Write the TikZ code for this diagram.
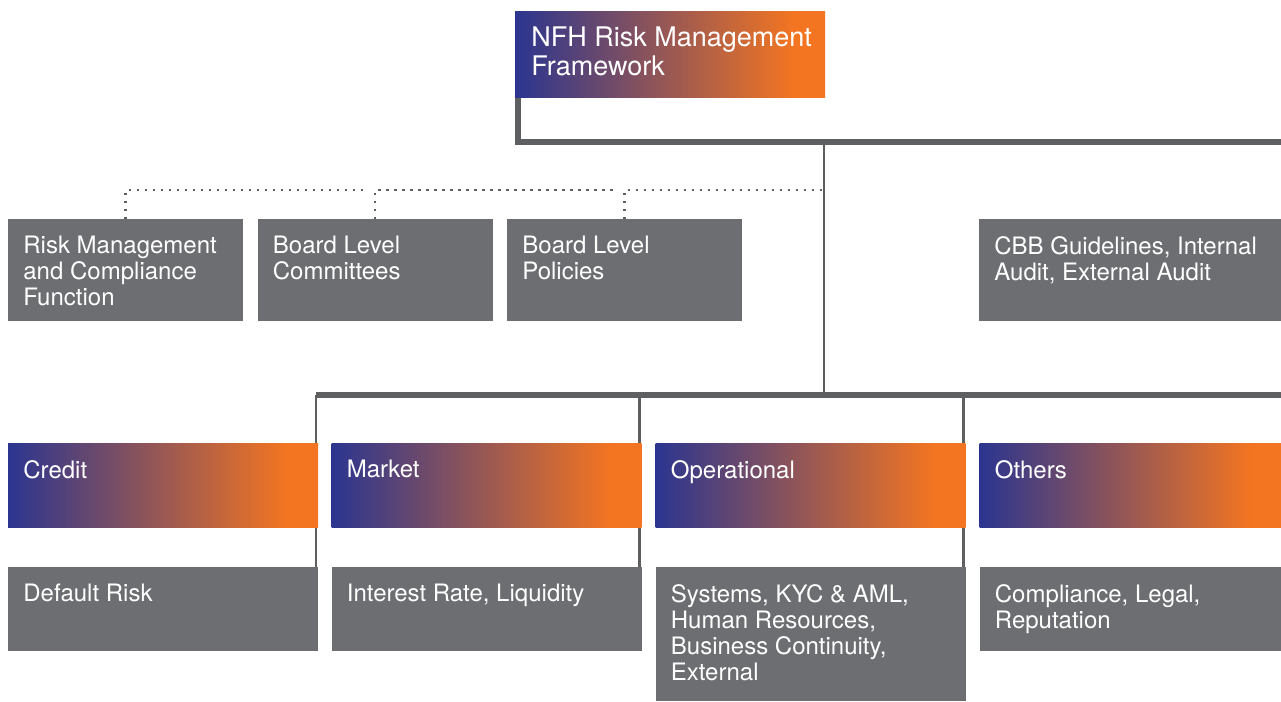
\documentclass[tikz,border=0pt]{standalone}
\usepackage{fontspec}
\setmainfont{TeX Gyre Heros}
\usetikzlibrary{positioning, backgrounds}

\definecolor{nfhblue}{HTML}{2B3590}
\definecolor{nfhorange}{HTML}{F37521}
\definecolor{boxgray}{HTML}{6D6E71}
\definecolor{linegray}{HTML}{5E5F61}

% blue to orange, flat orange over the last part of the box
\pgfdeclarehorizontalshading{riskgrad}{100bp}{color(0bp)=(nfhblue); color(25bp)=(nfhblue); color(70bp)=(nfhorange); color(100bp)=(nfhorange)}

\begin{document}
\begin{tikzpicture}[
    node distance=7pt,
    txt/.style={anchor=north west, inner xsep=7.5pt, inner ysep=8.5pt, text=white, align=left, font=\fontsize{12}{13}\selectfont},
    tag/.style={label={[txt]north west:#1}},
    bigtag/.style={label={[txt, inner xsep=8pt, inner ysep=7.5pt, font=\fontsize{13.5}{14.5}\selectfont]north west:#1}},
    plain/.style={rectangle, inner sep=0pt, outer sep=0pt, minimum width=155pt, minimum height=42pt},
    gbox/.style={plain, fill=boxgray},
    head/.style={plain, shading=riskgrad},
    bus/.style={draw=linegray, line width=2.75pt},
    link/.style={draw=linegray, line width=1.1pt},
    dots/.style={draw=linegray, line width=1.25pt, dash pattern=on 1.25pt off 2.75pt}
]
    \useasboundingbox (0,0) rectangle (640.5pt,-351pt);

    % framework
    \node[head, minimum height=43pt, anchor=north west, bigtag={NFH Risk Management\\Framework}] (nfh) at (257.5pt,-5.5pt) {};

    % governance row
    \node[gbox, minimum width=117.5pt, minimum height=51pt, anchor=north west, tag={Risk Management\\and Compliance\\Function}] (rmc) at (4pt,-109.5pt) {};
    \node[gbox, minimum width=117.5pt, minimum height=51pt, right=7.25pt of rmc, tag={Board Level\\Committees}] (bcom) {};
    \node[gbox, minimum width=117.5pt, minimum height=51pt, right=7.25pt of bcom, tag={Board Level\\Policies}] (bpol) {};
    \node[gbox, minimum width=151pt, minimum height=51pt, anchor=north west, tag={CBB Guidelines, Internal\\Audit, External Audit}] (cbb) at (489.5pt,-109.5pt) {};

    % risk categories
    \node[head, anchor=north west, tag={Credit}] (credit) at (4pt,-221.5pt) {};
    \node[head, right=6.75pt of credit, tag={Market}] (market) {};
    \node[head, right=of market, tag={Operational}] (ops) {};
    \node[head, minimum width=151pt, right=of ops, tag={Others}] (others) {};

    % risk details
    \node[gbox, below=20pt of credit, tag={Default Risk}] (default) {};
    \node[gbox, below=20pt of market, tag={Interest Rate, Liquidity}] (mrisk) {};
    \node[gbox, minimum height=67pt, below=20pt of ops, tag={Systems, KYC \& AML,\\Human Resources,\\Business Continuity,\\External}] (orisk) {};
    \node[gbox, minimum width=151pt, below=20pt of others, tag={Compliance, Legal,\\Reputation}] (xrisk) {};

    \begin{pgfonlayer}{background}
        \coordinate (topbus) at (640.5pt,-71pt);
        \coordinate (lowbus) at (640.5pt,-197.5pt);
        \coordinate (dotrow) at (412pt,-95pt);

        \draw[bus] ([xshift=1.5pt]nfh.south west) |- (topbus);
        \draw[link] ([xshift=-0.5pt]nfh.south east |- topbus) -- ([xshift=-0.5pt]nfh.south east |- lowbus);
        \draw[bus] ([xshift=-1pt]credit.east |- lowbus) -- (lowbus);
        \foreach \n/\d in {credit/default, market/mrisk, ops/orisk}
            \draw[link] ([xshift=-1pt]\n.north east |- lowbus) -- ([xshift=-1pt]\d.north east);

        % dotted ties to the governance boxes
        \draw[dots] (rmc.north) -- (rmc.north |- dotrow) -- ([xshift=-5.5pt]bcom.north |- dotrow);
        \draw[dots] (bcom.north) -- (bcom.north |- dotrow) -- ([xshift=-5.5pt]bpol.north |- dotrow);
        \draw[dots] (bpol.north) -- (bpol.north |- dotrow) -- (dotrow);
    \end{pgfonlayer}
\end{tikzpicture}
\end{document}
